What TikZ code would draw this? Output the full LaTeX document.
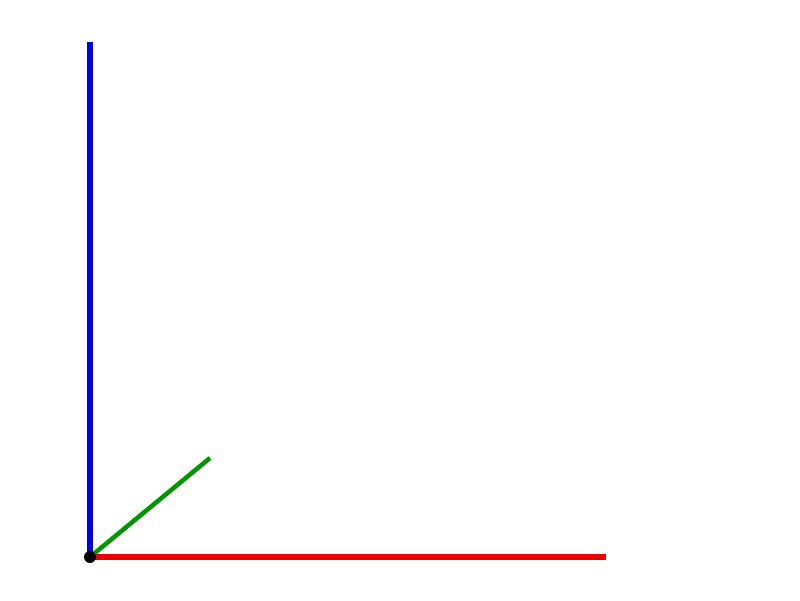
\documentclass[tikz,border=0pt]{standalone}
\definecolor{axisred}{RGB}{235,0,0}
\definecolor{axisgreen}{RGB}{0,150,0}
\definecolor{axisblue}{RGB}{0,0,235}
\begin{document}
\begin{tikzpicture}[x=1pt,y=1pt,
  axisline/.style={line width=6pt},
  thinaxis/.style={line width=4.5pt}]
\useasboundingbox (0,0) rectangle (800,600);
\coordinate (o) at (90,43);
\coordinate (xend) at (606,43);
\coordinate (yend) at (210,142);
\coordinate (zend) at (90,558);
\draw[axisline,axisblue] (o) -- (zend);
\draw[axisline,axisred] (o) -- (xend);
\draw[thinaxis,axisgreen] (o) -- (yend);
\fill[black] (o) circle (6pt);
\end{tikzpicture}
\end{document}
